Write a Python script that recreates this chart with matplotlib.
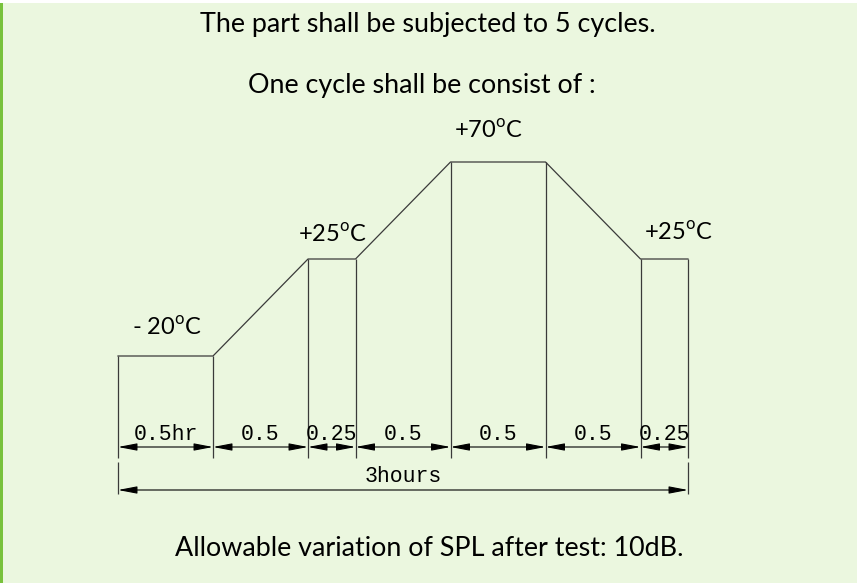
import numpy as np
import matplotlib.pyplot as plt
from matplotlib.patches import Rectangle

# Daten: ein Zyklus
durations = [0.5, 0.5, 0.25, 0.5, 0.5, 0.5, 0.25]          # Stunden je Abschnitt
seg_labels = ['0.5hr', '0.5', '0.25', '0.5', '0.5', '0.5', '0.25']
temps = [-20, -20, 25, 25, 70, 70, 25, 25]                 # Temperatur an jeder Grenze
temp_labels = ['- 20', '+25', '+70', '+25']
label_idx = [0, 2, 4, 6]                                    # Beginn der Plateaus
total_label = '3hours'

title1 = 'The part shall be subjected to 5 cycles.'
title2 = 'One cycle shall be consist of :'
footer = 'Allowable variation of SPL after test: 10dB.'

times = np.concatenate([[0.0], np.cumsum(durations)])

plt.rcParams['font.family'] = ['Lato', 'DejaVu Sans']
plt.rcParams['mathtext.fontset'] = 'custom'
plt.rcParams['mathtext.rm'] = 'Lato'

W, H = 857, 583
fig = plt.figure(figsize=(W / 100, H / 100), dpi=100)
fig.patch.set_facecolor('#EBF7DF')
fig.patches.append(Rectangle((0, 1 - 3 / H), 1, 3 / H, transform=fig.transFigure,
                             facecolor='white', edgecolor='none'))
fig.patches.append(Rectangle((0, 0), 2.5 / W, 1 - 3 / H, transform=fig.transFigure,
                             facecolor='#78C23C', edgecolor='none'))

# Achse: Stunden / Grad, so skaliert wie in der Vorlage
px_h = 190.0            # Pixel je Stunde
px_c = 194.0 / 90.0     # Pixel je Grad
x0, y_m20 = 118, 356
ax = fig.add_axes([0, 0, 1, 1])
ax.set_xlim(-x0 / px_h, (W - x0) / px_h)
ax.set_ylim(-20 - (H - y_m20) / px_c, -20 + y_m20 / px_c)
ax.axis('off')


def ypix(p):
    return -20 - (p - y_m20) / px_c


line_col = '#3a3a3a'
ax.plot(times, temps, color=line_col, lw=0.9)
ax.vlines(times, ypix(458), temps, color=line_col, lw=0.9)

# Temperaturbeschriftung
offsets = [(14, 21), (-10, 17), (4, 24), (3, 19)]
for lab, i, (dx, dy) in zip(temp_labels, label_idx, offsets):
    ax.annotate(lab + r'$^{\mathrm{o}}$C', xy=(times[i], temps[i]),
                xytext=(dx, dy), textcoords='offset pixels',
                ha='left', va='baseline', fontsize=17)

# Bemaßung der Abschnitte
arrow = dict(arrowstyle='<|-|>,head_length=11.5,head_width=2.2',
             mutation_scale=1, color='black', lw=0.8, shrinkA=0, shrinkB=0)
y_dim = ypix(447)
for a, b, lab in zip(times[:-1], times[1:], seg_labels):
    ax.annotate('', xy=(a, y_dim), xytext=(b, y_dim), arrowprops=arrow)
    ax.annotate(lab, xy=((a + b) / 2, y_dim), xytext=(0, 7),
                textcoords='offset pixels', ha='center', va='baseline',
                family='Liberation Mono', fontsize=15.5)

# Gesamtmaß
ax.vlines([times[0], times[-1]], ypix(494), ypix(462), color=line_col, lw=0.9)
y_tot = ypix(490)
ax.annotate('', xy=(times[0], y_tot), xytext=(times[-1], y_tot), arrowprops=arrow)
ax.annotate(total_label, xy=((times[0] + times[-1]) / 2, y_tot), xytext=(0, 8),
            textcoords='offset pixels', ha='center', va='baseline',
            family='Liberation Mono', fontsize=15.5)

# Texte
fig.text(428 / W, 1 - 32 / H, title1, ha='center', va='baseline', fontsize=19.4)
fig.text(422 / W, 1 - 93 / H, title2, ha='center', va='baseline', fontsize=19.4)
fig.text(429 / W, 1 - 556 / H, footer, ha='center', va='baseline', fontsize=19.4)

fig.savefig('out.png', dpi=100, facecolor=fig.get_facecolor())
